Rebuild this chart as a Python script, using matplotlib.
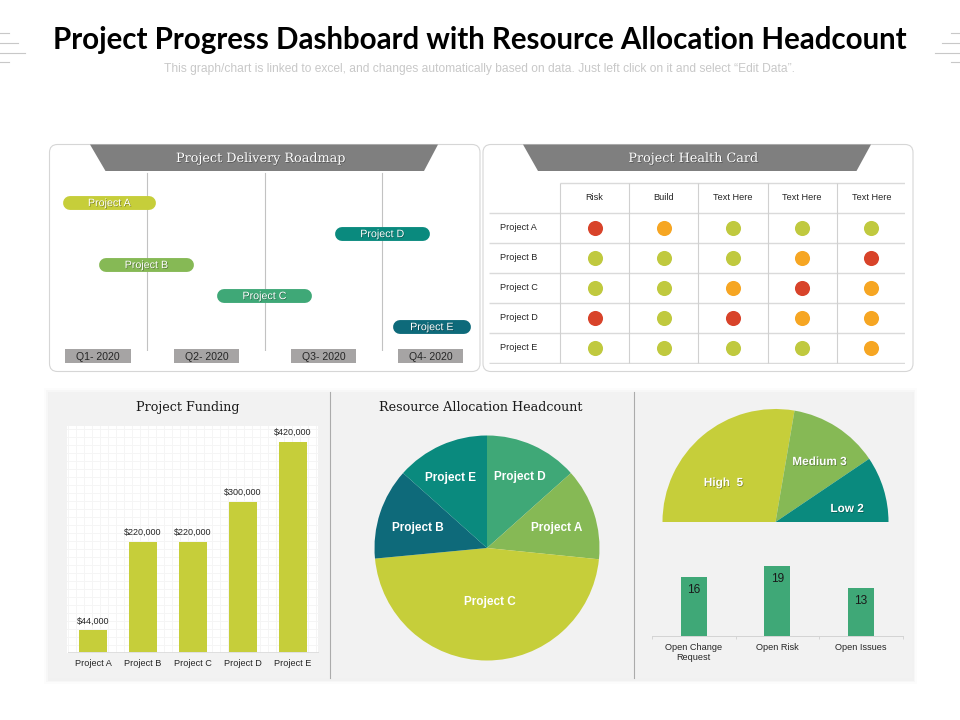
import matplotlib
matplotlib.use('Agg')
import matplotlib.pyplot as plt
import matplotlib.patheffects as pe
from matplotlib.patches import FancyBboxPatch, Polygon, Rectangle

W, H = 960, 720

TITLE = 'Project Progress Dashboard with Resource Allocation Headcount'
SUBTITLE = ('This graph/chart is linked to excel, and changes automatically based on data. '
            'Just left click on it and select “Edit Data”.')

# roadmap, times are in quarters (1 = end of Q1)
road_names = ['Project A', 'Project D', 'Project B', 'Project C', 'Project E']
road_start = [0.34, 2.66, 0.65, 1.655, 3.15]
road_end = [1.02, 3.345, 1.34, 2.345, 3.70]
road_colors = ['#C6CE3A', '#0A8A7E', '#86B955', '#3FA877', '#0E6A7A']
quarter_lines = [1, 2, 3]
quarter_labels = ['Q1- 2020', 'Q2- 2020', 'Q3- 2020', 'Q4- 2020']

# health card
health_cols = ['Risk', 'Build', 'Text Here', 'Text Here', 'Text Here']
health_rows = ['Project A', 'Project B', 'Project C', 'Project D', 'Project E']
health_status = ['RAGGG', 'GGGAR', 'GGARA', 'RGRAA', 'GGGGA']
status_colors = {'R': '#D8432A', 'A': '#F6A623', 'G': '#C0C93F'}

# funding
fund_names = ['Project A', 'Project B', 'Project C', 'Project D', 'Project E']
fund_values = [44000, 220000, 220000, 300000, 420000]

# headcount pie, clockwise from the top
pie_names = ['Project D', 'Project A', 'Project C', 'Project B', 'Project E']
pie_values = [13.4, 13.2, 46.9, 13.1, 13.4]
pie_colors = ['#3FA877', '#86B955', '#C6CE3A', '#0E6A7A', '#0A8A7E']

# half pie, spans in degrees as drawn
gauge_labels = ['High  5', 'Medium 3', 'Low 2']
gauge_spans = [99.7, 46.3, 34]
gauge_colors = ['#C6CE3A', '#86B955', '#0A8A7E']

# open items
open_names = ['Open Change\nRequest', 'Open Risk', 'Open Issues']
open_values = [16, 19, 13]

plt.rcParams['font.family'] = ['Liberation Sans', 'DejaVu Sans']

fig = plt.figure(figsize=(9.6, 7.2), dpi=100, facecolor='white')


def px_axes(x0, y0, x1, y1, zorder=2):
    # axes placed by pixel box, y going down
    ax = fig.add_axes([x0 / W, 1 - y1 / H, (x1 - x0) / W, (y1 - y0) / H], zorder=zorder)
    ax.patch.set_alpha(0)
    return ax


def clean(ax):
    for s in ax.spines.values():
        s.set_visible(False)
    ax.set_xticks([])
    ax.set_yticks([])


bg = px_axes(0, 0, W, H, zorder=0)
bg.set_xlim(0, W)
bg.set_ylim(H, 0)
bg.axis('off')
fg = px_axes(0, 0, W, H, zorder=10)
fg.set_xlim(0, W)
fg.set_ylim(H, 0)
fg.axis('off')

shadow = [pe.withSimplePatchShadow(offset=(0.5, -0.5), alpha=0.35, shadow_rgbFace='black')]

# corner lines
for y, x_len, in [(33, 9), (43, 18), (52.5, 25), (62, 9)]:
    bg.plot([0, x_len], [y, y], color='#C8C8C8', lw=0.8)
    bg.plot([W - x_len, W], [y, y], color='#C8C8C8', lw=0.8)

fg.text(479.5, 40.5, TITLE, family='Lato', weight='bold', fontsize=21.25, color='black',
        ha='center', va='center')
fg.text(479.5, 69, SUBTITLE, fontsize=8.65, color='#C8C8C8', ha='center', va='center')

# top panels
for x0, x1, t0, t1, b0, b1, head, head_x in [
        (49.5, 480, 90, 438, 105.5, 424, 'Project Delivery Roadmap', 260.5),
        (483, 913, 523, 871, 538, 856.5, 'Project Health Card', 693)]:
    bg.add_patch(FancyBboxPatch((x0 + 8, 152.5), x1 - x0 - 16, 211,
                                boxstyle='round,pad=8,rounding_size=8',
                                fc='white', ec='#D6D6D6', lw=0.8))
    bg.add_patch(Polygon([(t0, 144.5), (t1, 144.5), (b1, 171), (b0, 171)], fc='#7F7F7F', ec='none'))
    fg.text(head_x, 158.5, head, family='DejaVu Serif', fontsize=9.2, color='white',
            ha='center', va='center', path_effects=shadow)

# roadmap
ax_road = px_axes(50, 171, 480, 350.7)
clean(ax_road)
ax_road.set_xlim(0.174, 3.834)
ax_road.set_ylim(4.78, -1.016)
for q in quarter_lines:
    ax_road.axvline(q, ymin=0, ymax=0.989, color='#C2C2C2', lw=0.8, zorder=1)
for i, name in enumerate(road_names):
    ax_road.plot([road_start[i], road_end[i]], [i, i], color=road_colors[i], lw=10,
                 solid_capstyle='round', zorder=2)
    ax_road.text((road_start[i] + road_end[i]) / 2, i + 0.02, name, color='white', fontsize=7.7,
                 ha='center', va='center', zorder=3, path_effects=shadow)
for (x0, x1), label in zip([(65, 131), (174, 239), (291, 356), (398, 463)], quarter_labels):
    bg.add_patch(Rectangle((x0, 349), x1 - x0, 14, fc='#A6A4A4', ec='none'))
    fg.text((x0 + x1) / 2, 356.5, label, fontsize=7.6, color='#262626', ha='center', va='center')

# health card
ax_health = px_axes(489, 181.7, 905, 364)
clean(ax_health)
ax_health.set_xlim(-1.525, 4.487)
ax_health.set_ylim(4.55, -1.527)
ax_health.hlines(-1.5, -0.5, 4.487, color='#DADADA', lw=1, zorder=1)
ax_health.hlines([r - 0.5 for r in range(6)], -1.525, 4.487, color='#DADADA', lw=1, zorder=1)
ax_health.vlines([c - 0.5 for c in range(5)], -1.5, 4.5, color='#D0D0D0', lw=0.8, zorder=1)
for c, name in enumerate(health_cols):
    ax_health.text(c, -1, name, fontsize=6.6, color='#262626', ha='center', va='center')
for r, row in enumerate(health_rows):
    ax_health.text(-1.37, r, row, fontsize=6.6, color='#262626', ha='left', va='center')
    for c, st in enumerate(health_status[r]):
        ax_health.scatter(c, r, s=118, color=status_colors[st], linewidths=0, zorder=3)

# bottom panel with soft shadow
for grow, alpha in [(5, 0.012), (3, 0.018), (1.5, 0.025)]:
    bg.add_patch(Rectangle((49 - grow, 392 - grow + 1), 863 + 2 * grow, 286 + 2 * grow,
                           fc='black', ec='none', alpha=alpha))
bg.add_patch(Rectangle((49, 392), 863, 286, fc='#F2F2F2', ec='none'))
for x in [330, 633.5]:
    bg.plot([x, x], [392, 678], color='#ABABAB', lw=0.8)

# funding bars
bg.add_patch(Rectangle((67, 426), 251, 226.5, fc='white', ec='none'))
for x in range(67, 319, 8):
    bg.plot([x + 0.5, x + 0.5], [426, 652], color='#F5F5F5', lw=0.7)
for y in range(428, 652, 8):
    bg.plot([67, 318], [y + 0.5, y + 0.5], color='#F5F5F5', lw=0.7)

ax_fund = px_axes(68, 426.7, 318, 652.3)
ax_fund.set_xlim(-0.5, 4.5)
ax_fund.set_ylim(0, 450000)
for s in ['top', 'left', 'right']:
    ax_fund.spines[s].set_visible(False)
ax_fund.spines['bottom'].set_color('#DEDEDE')
ax_fund.spines['bottom'].set_linewidth(0.7)
ax_fund.set_yticks([])
ax_fund.set_xticks(range(5), fund_names, fontsize=6.6, color='#262626')
ax_fund.tick_params(axis='x', length=0, pad=4.5)
bars = ax_fund.bar(range(5), fund_values, width=0.56, color='#C6CE3A')
ax_fund.bar_label(bars, labels=[f'${v:,}' for v in fund_values], fontsize=6.5, color='#262626', padding=3.5)
fg.text(187.5, 407.5, 'Project Funding', family='DejaVu Serif', fontsize=9.2, color='#1A1A1A',
        ha='center', va='center')

# headcount pie
cx, cy, r = 487, 548, 112.5
ax_pie = px_axes(cx - r, cy - r, cx + r, cy + r)
ax_pie.pie(pie_values, colors=pie_colors, startangle=90, counterclock=False, radius=1,
           wedgeprops={'linewidth': 0})
ax_pie.set_xlim(-1, 1)
ax_pie.set_ylim(-1, 1)
fg.text(481, 407.5, 'Resource Allocation Headcount', family='DejaVu Serif', fontsize=9.2,
        color='#1A1A1A', ha='center', va='center')
for name, x, y in zip(pie_names, [520, 557, 490, 418, 450.5], [477, 528.5, 602, 528.5, 478.5]):
    fg.text(x, y, name, fontsize=8.5, weight='bold', color='white', ha='center', va='center')

# half pie
gx, gy, gr = 775.5, 522, 113
ax_gauge = px_axes(gx - gr, gy - gr, gx + gr, gy + gr)
ax_gauge.pie(gauge_spans + [180], colors=gauge_colors + ['none'], startangle=180,
             counterclock=False, radius=1, wedgeprops={'linewidth': 0})
ax_gauge.set_xlim(-1, 1)
ax_gauge.set_ylim(-1, 1)
for label, x, y in zip(gauge_labels, [723.5, 819.5, 847], [483, 462, 509]):
    fg.text(x, y, label, fontsize=8.5, weight='bold', color='white', ha='center', va='center',
            path_effects=shadow)

# open items bars
ax_open = px_axes(652, 560, 902.5, 636.3)
ax_open.set_xlim(-0.5, 2.5)
ax_open.set_ylim(0, 76.3 / 3.7)
for s in ['top', 'left', 'right']:
    ax_open.spines[s].set_visible(False)
ax_open.spines['bottom'].set_color('#D4D4D4')
ax_open.spines['bottom'].set_linewidth(0.7)
ax_open.set_yticks([])
ax_open.set_xticks(range(3), open_names, fontsize=6.6, color='#262626', linespacing=1.25)
ax_open.set_xticks([-0.5, 0.5, 1.5, 2.5], minor=True)
ax_open.tick_params(axis='x', which='major', length=0, pad=4.5)
ax_open.tick_params(axis='x', which='minor', length=2.5, width=0.6, color='#D0D0D0')
ax_open.bar(range(3), open_values, width=0.31, color='#3FA877')
for i, v in enumerate(open_values):
    ax_open.annotate(str(v), (i, v), xytext=(0, -5), textcoords='offset points', fontsize=8.6,
                     color='#1A1A1A', ha='center', va='top')

fig.savefig('out.png', dpi=100)
